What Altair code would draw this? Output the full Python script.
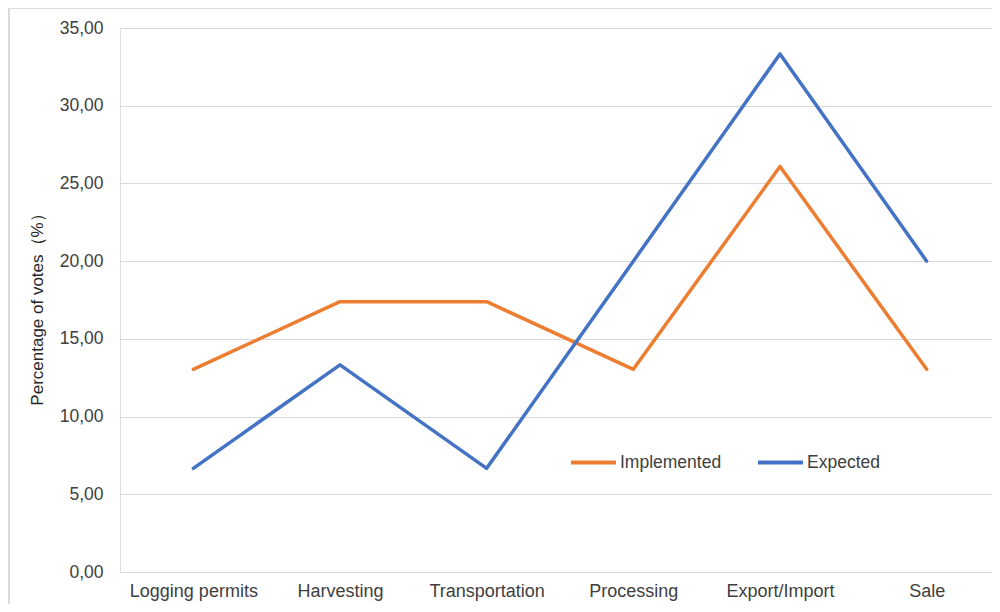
import altair as alt
import pandas as pd

categories = ["Logging permits", "Harvesting", "Transportation", "Processing", "Export/Import", "Sale"]
implemented = [13.04, 17.39, 17.39, 13.04, 26.09, 13.04]
expected = [6.67, 13.33, 6.67, 20.00, 33.33, 20.00]
series_names = ["Implemented", "Expected"]
colors = ["#ED7D31", "#4472C4"]

rows = []
for k, (name, vals) in enumerate(zip(series_names, [implemented, expected])):
    for c, v in zip(categories, vals):
        rows.append({"Category": c, "Series": name, "Value": v, "order": k})
df = pd.DataFrame(rows)

W, H = 880, 544
FONT = "Liberation Sans"

lines = alt.Chart(df).mark_line(strokeWidth=3.5, strokeCap="round", strokeJoin="round").encode(
    x=alt.X("Category:N", sort=categories, scale=alt.Scale(paddingOuter=0.5),
            axis=alt.Axis(title=None, labelAngle=0, labelFontSize=18, labelColor="#404040", labelFont=FONT,
                          ticks=False, domain=False, labelPadding=10, grid=False)),
    y=alt.Y("Value:Q", scale=alt.Scale(domain=[0, 35], nice=False),
            axis=alt.Axis(title="Percentage of votes（%）", values=[0, 5, 10, 15, 20, 25, 30, 35],
                          labelExpr="replace(format(datum.value, '.2f'), '.', ',')",
                          labelFontSize=17.5, labelColor="#404040", labelFont=FONT, labelPadding=17,
                          ticks=False, domain=False, gridColor="#d9d9d9", gridWidth=1.2,
                          titleFont=FONT, titleFontSize=17, titleFontWeight="normal", titleColor="#262626",
                          titleAngle=-90, titleX=-83, titleY=277, titleAlign="center", titleBaseline="middle")),
    color=alt.Color("Series:N", sort=series_names, scale=alt.Scale(domain=series_names, range=colors),
                    legend=alt.Legend(title=None, orient="none", direction="horizontal", legendX=449, legendY=410,
                                      symbolType="stroke", symbolSize=2025, symbolStrokeWidth=4,
                                      labelFontSize=17.5, labelFont=FONT, labelColor="#404040", labelOffset=2,
                                      columnPadding=28)),
    detail="Series:N",
    order=alt.Order("order:Q"),
)

border = alt.Chart(pd.DataFrame({"a": [0]})).mark_rect(fill=None, stroke="#d9d9d9", strokeWidth=2).encode(
    x=alt.value(-111), x2=alt.value(W + 30), y=alt.value(-20), y2=alt.value(H + 80)
)

chart = alt.layer(border, lines).properties(
    width=W, height=H,
    autosize=alt.AutoSizeParams(type="none"),
    padding={"left": 112, "top": 20, "right": -8, "bottom": 32},
).configure_view(stroke=None).configure(background="white")

chart.save("out.html", embed_options={"renderer": "svg", "actions": False})
